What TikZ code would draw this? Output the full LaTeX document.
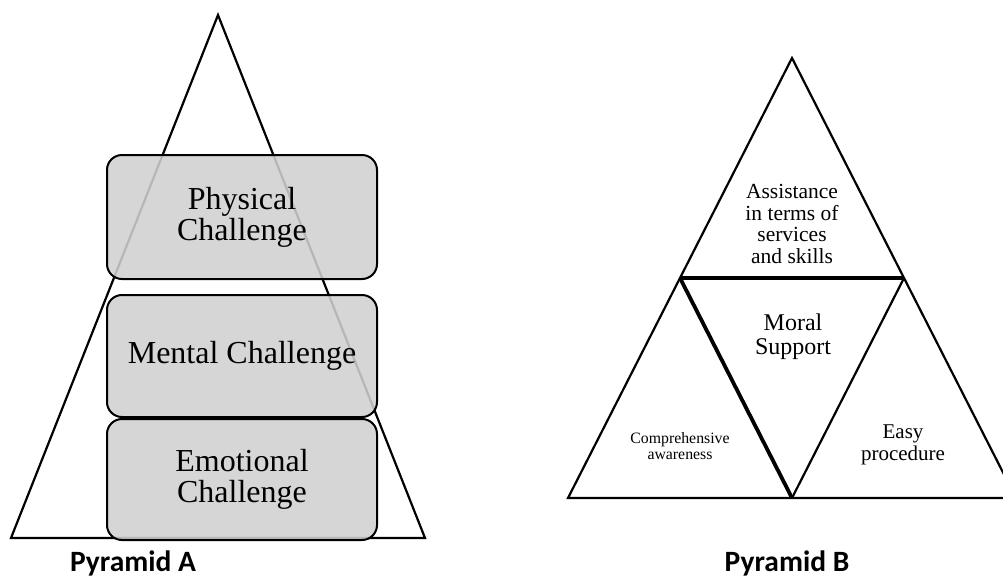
\documentclass[tikz,border=0pt]{standalone}
\usepackage{fontspec}
\setmainfont{Liberation Serif}
\newfontfamily\captionfont{Carlito}
\usepackage{tikz}
\usetikzlibrary{positioning}
\definecolor{boxgray}{RGB}{208,208,208}

\begin{document}
\begin{tikzpicture}[x=1pt,y=-1pt,
  challenge/.style={rectangle,draw,line width=2pt,rounded corners=15pt,
                    fill=boxgray,fill opacity=0.88,text opacity=1,
                    minimum width=270pt,align=center,
                    font=\fontsize{32}{31}\selectfont},
  edge/.style={line width=2.2pt,line join=miter},
  thickedge/.style={line width=3.8pt,line join=miter},
  part/.style={align=center},
  caption/.style={anchor=base,font=\captionfont\bfseries\fontsize{29.5}{31}\selectfont}]

\useasboundingbox (0,0) rectangle (1003,579);

% Pyramid A
\coordinate (apexA) at (218,15);
\coordinate (leftA) at (11,538);
\coordinate (rightA) at (425,538);
\draw[edge] (apexA) -- (leftA) -- (rightA) -- cycle;

\node[challenge,minimum height=124pt] (phys) at (242,217) {Physical\\Challenge};
\node[challenge,minimum height=122pt,below=14pt of phys] (mental) {Mental Challenge};
\node[challenge,minimum height=121pt,below=0pt of mental] (emot) {Emotional\\Challenge};

\node[caption] (capA) at (133,571) {Pyramid A};

% Pyramid B
\coordinate (apexB) at (792,58);
\coordinate (leftB) at (568,498);
\coordinate (rightB) at (1016,498);
\coordinate (midL) at (680,278);
\coordinate (midR) at (904,278);
\coordinate (midB) at (792,498);
\draw[edge] (apexB) -- (leftB) -- (rightB) -- cycle;
\draw[thickedge] (midL) -- (midR);
\draw[thickedge] (midL) -- (midB);
\draw[edge] (midR) -- (midB);

\node[part,font=\fontsize{21.5}{21.7}\selectfont] (assist) at (792,224)
  {Assistance\\in terms of\\services\\and skills};
\node[part,font=\fontsize{24}{24}\selectfont] (moral) at (793,337) {Moral\\Support};
\node[part,font=\fontsize{15.8}{16}\selectfont] (aware) at (680,446) {Comprehensive\\awareness};
\node[part,font=\fontsize{21}{22}\selectfont] (easy) at (903,445) {Easy\\procedure};

\node[caption] (capB) at (787,571) {Pyramid B};
\end{tikzpicture}
\end{document}
